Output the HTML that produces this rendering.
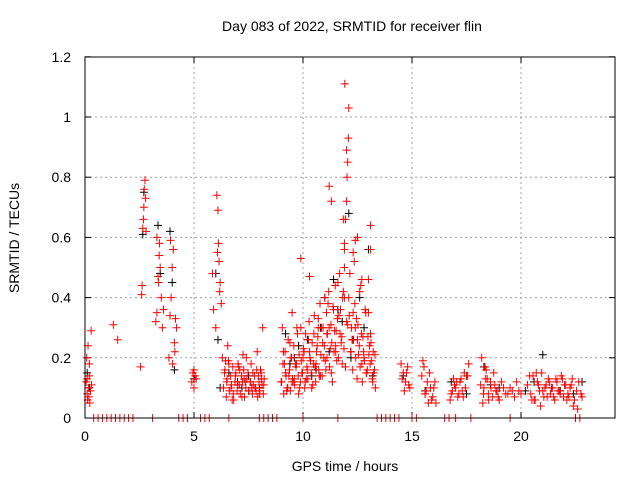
<!DOCTYPE html>
<html><head><meta charset="utf-8"><style>
body{margin:0;background:#fff;}
svg{display:block;font-family:"Liberation Sans",sans-serif;}
</style></head><body>
<svg id="chart" width="640" height="480">
<text x="352" y="31" font-size="14" text-anchor="middle">Day 083 of 2022, SRMTID for receiver flin</text>
<text x="345" y="471" font-size="14" text-anchor="middle">GPS time / hours</text>
<text transform="translate(19,238) rotate(-90)" font-size="14" text-anchor="middle">SRMTID / TECUs</text>
<g id="grid"></g><g id="ticks"></g><g id="blk"></g><g id="red"></g>
<rect x="85" y="57" width="530" height="361" fill="none" stroke="#000" stroke-width="1"/>
</svg>
<script>
const xTicks=[0,5,10,15,20];
const yTicks=[0,0.2,0.4,0.6,0.8,1,1.2];
const yTickLabels=["0","0.2","0.4","0.6","0.8","1","1.2"];
const redT=[0.05,0.1,0.12,0.15,0.2,0.22,0.25,0.1,0.18,0.3,0.08,0.14,0.2,0.28,1.3,1.5,2.55,2.6,2.62,2.65,2.68,2.7,2.72,2.75,2.78,2.8,3.25,3.3,3.35,3.4,3.42,3.45,3.5,3.55,3.6,3.3,3.38,3.85,3.9,3.95,4.0,4.05,4.1,4.15,4.2,3.92,4.02,4.12,4.9,4.95,5.0,5.05,5.1,5.0,5.85,5.9,6.0,6.05,6.1,6.12,6.15,6.2,6.25,6.3,6.08,6.18,6.4,6.5,6.6,6.7,6.8,6.9,7.0,7.1,7.2,7.3,7.4,7.5,7.6,7.7,7.8,7.9,8.0,8.1,8.2,6.45,6.75,7.05,7.35,7.65,7.95,8.15,6.55,7.25,7.85,8.05,9.0,9.1,9.2,9.3,9.4,9.5,9.6,9.7,9.8,9.9,10.0,10.1,10.2,10.3,10.4,10.5,10.6,10.7,10.8,10.9,11.0,11.1,11.2,11.3,11.4,11.5,11.6,11.7,11.8,11.9,12.0,12.1,12.2,12.3,12.4,12.5,12.6,12.7,12.8,12.9,13.0,13.1,13.2,13.3,9.05,9.15,9.25,9.35,9.45,9.55,9.65,9.75,9.85,9.95,10.05,10.15,10.25,10.35,10.45,10.55,10.65,10.75,10.85,10.95,11.05,11.15,11.25,11.35,11.45,11.55,11.65,11.75,11.85,11.95,12.05,12.15,12.25,12.35,12.45,12.55,12.65,12.75,12.85,12.95,13.05,13.15,13.25,9.5,9.9,10.3,10.7,11.1,11.5,11.9,12.3,12.7,13.1,11.9,11.95,12.0,12.02,12.05,12.08,12.1,11.92,12.0,11.2,11.3,11.85,11.9,12.4,12.5,13.0,13.1,14.5,14.6,14.7,14.8,14.9,15.5,15.6,15.7,15.8,15.9,16.0,16.1,16.8,16.9,17.0,17.1,17.2,17.3,17.4,17.5,17.6,18.2,18.3,18.4,18.5,18.6,18.7,18.8,18.9,19.0,19.2,19.4,19.6,19.8,20.0,20.4,20.6,20.8,21.0,21.2,21.4,21.6,21.8,22.0,22.2,22.4,22.6,22.8,15.55,15.65,17.05,18.25,18.35,18.45,20.5,20.7,20.9,21.1,21.3,21.5,21.7,21.9,22.1,22.3,22.5,22.7,0.4,0.6,0.8,1.0,1.2,1.4,1.6,1.8,2.0,2.2,3.1,4.3,4.5,4.7,5.3,5.5,5.7,6.6,8.0,8.2,8.4,8.6,8.8,10.0,11.6,13.4,13.6,13.8,14.0,14.2,14.4,15.0,15.2,16.5,16.7,17.0,17.7,19.5,20.5,22.5];
const redV=[0.12,0.08,0.06,0.1,0.14,0.05,0.09,0.13,0.07,0.11,0.2,0.24,0.18,0.29,0.31,0.26,0.17,0.41,0.44,0.63,0.66,0.70,0.76,0.79,0.73,0.62,0.32,0.35,0.47,0.54,0.58,0.50,0.40,0.30,0.36,0.60,0.45,0.20,0.34,0.40,0.50,0.56,0.25,0.33,0.30,0.59,0.18,0.22,0.12,0.15,0.10,0.14,0.13,0.16,0.48,0.36,0.30,0.74,0.69,0.58,0.52,0.45,0.38,0.20,0.55,0.42,0.15,0.12,0.18,0.10,0.08,0.14,0.11,0.16,0.07,0.13,0.20,0.09,0.12,0.15,0.10,0.22,0.08,0.13,0.11,0.19,0.06,0.17,0.12,0.10,0.14,0.30,0.24,0.21,0.09,0.16,0.12,0.22,0.15,0.10,0.25,0.35,0.13,0.18,0.08,0.30,0.20,0.12,0.16,0.22,0.10,0.28,0.18,0.33,0.14,0.25,0.40,0.20,0.30,0.15,0.36,0.24,0.45,0.28,0.18,0.50,0.32,0.40,0.22,0.55,0.30,0.26,0.42,0.18,0.20,0.15,0.35,0.28,0.12,0.21,0.30,0.18,0.09,0.14,0.20,0.12,0.18,0.28,0.10,0.15,0.22,0.13,0.26,0.19,0.11,0.17,0.24,0.14,0.30,0.20,0.16,0.38,0.23,0.12,0.29,0.19,0.34,0.25,0.42,0.17,0.31,0.48,0.26,0.52,0.33,0.21,0.44,0.27,0.36,0.16,0.24,0.19,0.15,0.12,0.53,0.47,0.30,0.28,0.22,0.40,0.35,0.46,0.64,0.56,0.66,0.72,0.80,0.85,0.93,1.03,1.11,0.89,0.77,0.72,0.66,0.58,0.59,0.60,0.46,0.56,0.18,0.15,0.12,0.17,0.10,0.19,0.08,0.12,0.15,0.06,0.10,0.05,0.08,0.13,0.10,0.07,0.12,0.09,0.15,0.14,0.18,0.20,0.10,0.16,0.08,0.12,0.07,0.11,0.09,0.06,0.10,0.08,0.09,0.12,0.08,0.14,0.06,0.11,0.09,0.07,0.10,0.13,0.08,0.11,0.07,0.04,0.03,0.07,0.17,0.09,0.12,0.05,0.17,0.13,0.06,0.15,0.04,0.10,0.12,0.07,0.09,0.13,0.06,0.11,0,0,0,0,0,0,0,0,0,0,0,0,0,0,0,0,0,0,0,0,0,0,0,0,0,0,0,0,0,0,0,0,0,0,0,0,0,0,0,0];
const redT2=[9.02,9.08,9.12,9.18,9.22,9.28,9.32,9.38,9.42,9.48,9.52,9.58,9.62,9.68,9.72,9.78,9.82,9.88,9.92,9.98,10.02,10.08,10.12,10.18,10.22,10.28,10.32,10.38,10.42,10.48,10.52,10.58,10.62,10.68,10.72,10.78,10.82,10.88,10.92,10.98,11.02,11.08,11.12,11.18,11.22,11.28,11.32,11.38,11.42,11.48,11.52,11.58,11.62,11.68,11.72,11.78,11.82,11.88,12.12,12.18,12.22,12.28,12.32,12.38,12.42,12.48,12.52,12.58,12.62,12.68,12.72,12.78,12.82,12.88,12.92,12.98,13.02,13.08,13.12,13.18,13.22,13.28,13.32];
const redV2=[0.12,0.18,0.08,0.22,0.14,0.10,0.26,0.16,0.09,0.20,0.13,0.24,0.11,0.17,0.30,0.14,0.21,0.12,0.19,0.15,0.23,0.10,0.28,0.17,0.13,0.32,0.20,0.15,0.25,0.18,0.34,0.12,0.22,0.27,0.16,0.38,0.21,0.14,0.30,0.24,0.19,0.35,0.28,0.42,0.17,0.31,0.25,0.37,0.22,0.44,0.29,0.33,0.20,0.48,0.36,0.27,0.40,0.23,0.34,0.22,0.30,0.16,0.26,0.38,0.20,0.13,0.31,0.24,0.17,0.28,0.12,0.22,0.19,0.35,0.15,0.27,0.21,0.18,0.25,0.13,0.22,0.16,0.10];
const redT3=[6.35,6.42,6.48,6.52,6.58,6.62,6.68,6.72,6.78,6.82,6.88,6.92,6.98,7.02,7.08,7.12,7.18,7.22,7.28,7.32,7.38,7.42,7.48,7.52,7.58,7.62,7.68,7.72,7.78,7.82,7.88,7.92,7.98,8.02,8.08,8.12,8.18,8.22];
const redV3=[0.10,0.16,0.07,0.13,0.19,0.09,0.14,0.11,0.17,0.06,0.12,0.15,0.09,0.18,0.11,0.08,0.14,0.12,0.16,0.07,0.10,0.13,0.15,0.09,0.12,0.18,0.08,0.11,0.14,0.10,0.16,0.07,0.12,0.09,0.15,0.11,0.08,0.13];
const redT4=[14.55,14.65,14.75,14.85,15.45,15.6,15.75,15.85,15.95,16.05,16.75,16.85,16.95,17.15,17.25,17.35,17.45,17.55,18.15,18.28,18.38,18.52,18.62,18.75,18.85,18.95,19.1,19.3,19.5,19.7,19.9,20.3,20.45,20.55,20.65,20.75,20.85,20.95,21.05,21.15,21.25,21.35,21.45,21.55,21.65,21.75,21.85,21.95,22.05,22.15,22.25,22.35,22.45,22.55,22.65,22.75];
const redV4=[0.13,0.09,0.15,0.11,0.14,0.08,0.05,0.10,0.07,0.12,0.06,0.09,0.11,0.08,0.13,0.07,0.10,0.14,0.11,0.08,0.13,0.06,0.10,0.15,0.09,0.07,0.12,0.08,0.10,0.07,0.09,0.11,0.08,0.14,0.06,0.12,0.09,0.15,0.07,0.11,0.13,0.08,0.10,0.06,0.12,0.09,0.14,0.07,0.11,0.08,0.10,0.13,0.06,0.09,0.12,0.08];
const blackT=[0.1,0.2,2.65,2.7,3.35,3.45,3.9,4.0,4.1,5.0,6.0,6.1,6.2,7.0,7.5,8.0,9.2,9.6,10.2,10.6,11.0,11.4,11.8,12.1,12.3,12.6,13.0,13.2,14.6,15.6,16.8,17.5,18.3,19.0,20.6,21.0,21.8,22.4,22.8,9.4,9.8,10.4,10.8,11.2,11.6,12.2,12.8,7.2,6.6,18.6,20.2,21.4];
const blackV=[0.15,0.10,0.61,0.75,0.64,0.48,0.62,0.45,0.16,0.13,0.48,0.26,0.10,0.12,0.14,0.10,0.28,0.20,0.26,0.16,0.40,0.46,0.32,0.68,0.26,0.40,0.56,0.14,0.14,0.09,0.12,0.08,0.17,0.10,0.12,0.21,0.09,0.08,0.12,0.18,0.24,0.14,0.30,0.22,0.36,0.20,0.30,0.10,0.15,0.11,0.09,0.10];
const X=t=>85+t*21.8, Y=v=>418-v*301;
const ns="http://www.w3.org/2000/svg";
function mk(tag,attrs,parent){const e=document.createElementNS(ns,tag);for(const k in attrs)e.setAttribute(k,attrs[k]);parent.appendChild(e);return e;}
const g=document.getElementById('grid'),tk=document.getElementById('ticks');
xTicks.forEach(t=>{
  if(t>0){const l=mk('line',{x1:X(t),x2:X(t),y1:57,y2:418,stroke:'#a0a0a0','stroke-dasharray':'2,3'},g);
  
  }
  const tl=mk('text',{x:X(t),y:441,'font-size':14,'text-anchor':'middle'},tk);tl.textContent=t;
  
  
  mk('line',{x1:X(t),x2:X(t),y1:418,y2:412,stroke:'#000'},tk);
  mk('line',{x1:X(t),x2:X(t),y1:57,y2:63,stroke:'#000'},tk);
});
yTicks.forEach((v,i)=>{
  if(v>0&&v<1.2){const l=mk('line',{x1:85,x2:615,y1:Y(v),y2:Y(v),stroke:'#a0a0a0','stroke-dasharray':'2,3'},g);
  
  }
  const tl=mk('text',{x:71,y:Y(v)+5,'font-size':14,'text-anchor':'end'},tk);tl.textContent=yTickLabels[i];
  
  
  mk('line',{x1:85,x2:91,y1:Y(v),y2:Y(v),stroke:'#000'},tk);
  mk('line',{x1:615,x2:609,y1:Y(v),y2:Y(v),stroke:'#000'},tk);
});
function plus(par,t,v,c,name){const x=X(t),y=Y(v);
  const p=mk('path',{d:`M${x-4},${y}h8M${x},${y-4}v8`,stroke:c,'stroke-width':1,fill:'none'},par);
  
  }
function series(par,T,V,c,name){const n=Math.min(T.length,V.length);for(let i=0;i<n;i++)plus(par,T[i],V[i],c,name);}
const bk=document.getElementById('blk'),rd=document.getElementById('red');
series(bk,blackT,blackV,'#000','black-point');
series(rd,redT,redV,'#ff0000','red-point');
series(rd,redT2,redV2,'#ff0000','red-point');
series(rd,redT3,redV3,'#ff0000','red-point');
series(rd,redT4,redV4,'#ff0000','red-point');
</script>
</body></html>
